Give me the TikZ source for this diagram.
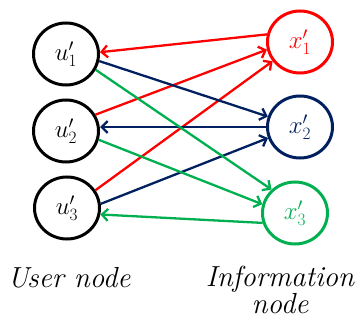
\documentclass[tikz,border=0pt]{standalone}
\usetikzlibrary{arrows.meta,shapes.geometric}
\definecolor{cred}{RGB}{255,0,0}
\definecolor{cnavy}{RGB}{0,32,96}
\definecolor{cgreen}{RGB}{0,176,80}
\begin{document}
\begin{tikzpicture}[x=1pt,y=-1pt,
  vnode/.style={ellipse,draw,line width=3pt,minimum width=65pt,minimum height=62pt,inner sep=0pt,font=\fontsize{27}{31}\selectfont},
  link/.style={line width=2.3pt,-{Straight Barb[length=6pt,width=12pt]}},
  lbl/.style={font=\fontsize{29}{27}\selectfont\itshape,align=center}]
\useasboundingbox (0,0) rectangle (355,323);
\node[vnode] (u1) at (66,54) {$u'_1$};
\node[vnode] (u2) at (66,131) {$u'_2$};
\node[vnode] (u3) at (67,208) {$u'_3$};
\node[vnode,draw=cred,text=cred] (x1) at (300,42) {$x'_1$};
\node[vnode,draw=cnavy,text=cnavy] (x2) at (300,127) {$x'_2$};
\node[vnode,draw=cgreen,text=cgreen] (x3) at (295,213) {$x'_3$};
% red
\draw[link,cred] (x1.167) -- (u1.3);
\draw[link,cred] (u2.29) -- (x1.193);
\draw[link,cred] (u3.32) -- (x1.215);
% navy
\draw[link,cnavy] (u1.-12) -- (x2.162);
\draw[link,cnavy] (x2.west) -- (u2.east |- x2.west);
\draw[link,cnavy] (u3.7) -- (x2.199);
% green
\draw[link,cgreen] (u1.-28) -- (x3.135);
\draw[link,cgreen] (u2.-15) -- (x3.165);
\draw[link,cgreen] (x3.197) -- (u3.-11);
\node[lbl] (tu) at (69,278) {User node};
\node[lbl] (tx) at (280,290) {Information\\node};
\end{tikzpicture}
\end{document}
